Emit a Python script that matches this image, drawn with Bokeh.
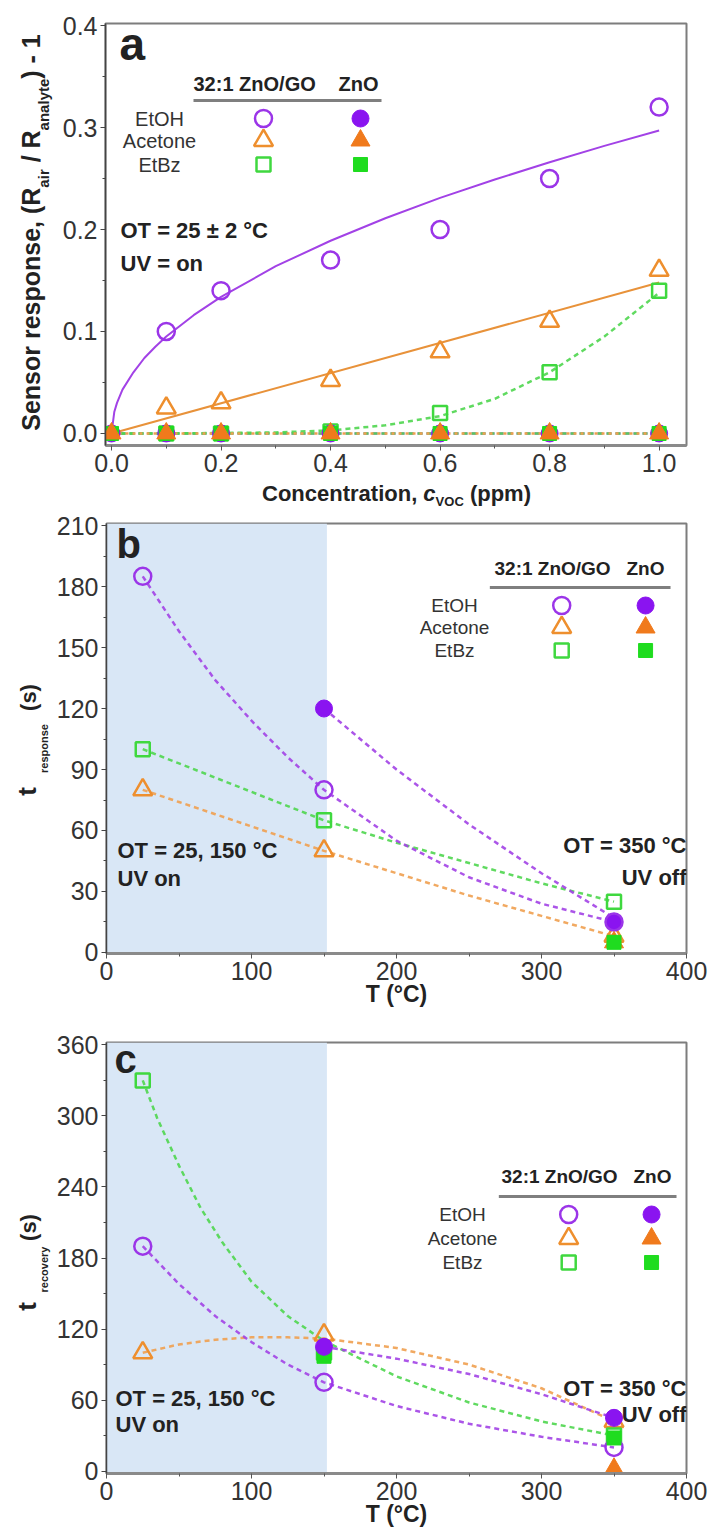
import math
from bokeh.plotting import figure
from bokeh.models import Range1d, FixedTicker, PrintfTickFormatter, Label, BoxAnnotation
from bokeh.layouts import column, row
from bokeh.embed import file_html
from bokeh.resources import INLINE

FONT = "Liberation Sans"

# ---------------- data ----------------
# panel a : sensor response vs concentration (UV on, 25 C)
conc = [0.1, 0.2, 0.4, 0.6, 0.8, 1.0]
a_etoh_go = [0.10, 0.14, 0.17, 0.20, 0.25, 0.32]
a_acetone_go = [0.025, 0.030, 0.052, 0.080, 0.110, 0.160]
a_etbz_go = [0.000, 0.000, 0.002, 0.020, 0.060, 0.140]
conc_zno = [0.0, 0.1, 0.2, 0.4, 0.6, 0.8, 1.0]
a_etoh_zno = [0.0, 0.0, 0.0, 0.0, 0.0, 0.0, 0.0]
a_acetone_zno = [0.0, 0.0, 0.0, 0.0, 0.0, 0.0, 0.0]
a_etbz_zno = [0.0, 0.0, 0.0, 0.0, 0.0, 0.0, 0.0]
# fitted curves
a_fit_x = [0, 0.005, 0.01, 0.02, 0.04, 0.06, 0.08, 0.1, 0.15, 0.2, 0.3, 0.4, 0.5, 0.6, 0.7, 0.8, 0.9, 1.0]
a_etoh_fit = [0, 0.021, 0.030, 0.043, 0.060, 0.074, 0.085, 0.095, 0.116, 0.134, 0.164, 0.189, 0.211, 0.231, 0.249, 0.266, 0.282, 0.297]
a_acetone_fit_x = [0.0, 1.0]
a_acetone_fit = [0.0, 0.148]
a_etbz_fit_x = [0.0, 0.1, 0.2, 0.3, 0.4, 0.5, 0.6, 0.7, 0.8, 0.9, 1.0]
a_etbz_fit = [0.0, 0.0, 0.0005, 0.001, 0.003, 0.008, 0.017, 0.034, 0.060, 0.095, 0.138]
a_zno_fit_x = [0.0, 1.0]
a_zno_fit = [0.0, 0.0]

# panel b : response time vs operating temperature
temps = [25, 150, 350]
b_etoh_go = [185, 80, 15]
b_acetone_go = [80, 50, 8]
b_etbz_go = [100, 65, 25]
b_etoh_zno_t = [150, 350]
b_etoh_zno = [120, 15]
b_acetone_zno_t = [350]
b_acetone_zno = [5]
b_etbz_zno_t = [350]
b_etbz_zno = [5]
b_fit_t = [25, 50, 75, 100, 125, 150, 200, 250, 300, 350]
b_etoh_go_fit = [185, 158, 134, 114, 96, 80, 55, 37, 24, 15]
b_acetone_go_fit = [80, 74, 68, 62, 56, 50, 39, 28, 18, 8]
b_etbz_go_fit = [100, 93, 86, 79, 72, 65, 54, 44, 34, 25]
b_zno_fit_t = [150, 200, 250, 300, 350]
b_etoh_zno_fit = [120, 90, 63, 39, 17]

# panel c : recovery time vs operating temperature
c_etoh_go = [190, 75, 20]
c_acetone_go = [100, 115, 42]
c_etbz_go = [330, 100, 30]
c_etoh_zno_t = [150, 350]
c_etoh_zno = [105, 45]
c_acetone_zno_t = [350]
c_acetone_zno = [2]
c_etbz_zno_t = [150, 350]
c_etbz_zno = [97, 28]
c_fit_t = [25, 50, 75, 100, 125, 150, 200, 250, 300, 350]
c_etoh_go_fit = [190, 158, 131, 109, 90, 75, 55, 40, 29, 20]
c_acetone_go_fit = [100, 107, 111, 113, 113, 112, 104, 90, 70, 42]
c_etbz_fit_t = [25, 35, 50, 65, 80, 100, 125, 150, 200, 250, 300, 350]
c_etbz_go_fit = [330, 298, 258, 222, 193, 160, 131, 110, 80, 58, 42, 30]
c_zno_fit_t = [150, 200, 250, 300, 350]
c_etoh_zno_fit = [105, 95, 82, 65, 45]

# ticks
a_xticks = [0.0, 0.2, 0.4, 0.6, 0.8, 1.0]
a_xminor = [0.1, 0.3, 0.5, 0.7, 0.9]
a_yticks = [0.0, 0.1, 0.2, 0.3, 0.4]
a_yminor = [0.05, 0.15, 0.25, 0.35]
t_xticks = [0, 100, 200, 300, 400]
t_xminor = [50, 150, 250, 350]
b_yticks = [0, 30, 60, 90, 120, 150, 180, 210]
b_yminor = [15, 45, 75, 105, 135, 165, 195]
c_yticks = [0, 60, 120, 180, 240, 300, 360]
c_yminor = [30, 90, 150, 210, 270, 330]

legend_rows = ["EtOH", "Acetone", "EtBz"]
legend_cols = ["32:1 ZnO/GO", "ZnO"]

# ---------------- styles ----------------
PURPLE_O = "#9b35e8"
PURPLE_F = "#8a14f0"
PURPLE_L = "#a242e6"
ORANGE_O = "#ee8f2e"
ORANGE_F = "#f07a1c"
ORANGE_L = "#f0a050"
GREEN_O = "#3fd83f"
GREEN_F = "#1fdc1f"
GREEN_L = "#4fd64f"
SHADE = "#d9e7f6"
TXT = "#222222"

YT_W = 53          # width of the y-title strip
MAIN_W = 657       # width of each chart
FL = 105           # frame left (page px)
FR = 686           # frame right (page px)
FW = FR - FL

BOLD = {' ': 278, '(': 333, ')': 333, ',': 278, '-': 333, '.': 278, '/': 278, ':': 333,
        'A': 722, 'C': 722, 'O': 778, 'R': 722, 'S': 667, 'T': 611, 'V': 667, 'Z': 611, 'G': 778,
        'a': 556, 'b': 611, 'c': 556, 'e': 556, 'i': 278, 'l': 278, 'm': 889, 'n': 611, 'o': 611,
        'p': 611, 'r': 389, 's': 556, 't': 333, 'v': 556, 'y': 556, '1': 556}


def tw(s, size):
    return sum(BOLD.get(ch, 556) for ch in s) / 1000.0 * size


def put_text(fig, sx, sy, s, size, bold=True, align="left", color=TXT, angle=0.0, italic=False):
    style = "bold" if bold else "normal"
    if italic:
        style = "bold italic" if bold else "italic"
    fig.add_layout(Label(x=sx, y=sy, x_units="screen", y_units="screen",
                         text=s, text_font=FONT, text_font_size=f"{size}px",
                         text_font_style=style, text_color=color, text_align=align,
                         text_baseline="middle", angle=angle))


def blank_fig(width, height, top_b, bottom_b):
    return figure(width=width, height=height, x_range=Range1d(0, 1), y_range=Range1d(0, 1),
                  x_axis_type=None, y_axis_type=None, output_backend="svg", title=None,
                  toolbar_location=None, min_border_left=0, min_border_right=0,
                  min_border_top=top_b, min_border_bottom=bottom_b, outline_line_color=None,
                  background_fill_color="white", border_fill_color="white")


class Strip:
    """Blank figure that only carries text placed outside the charts' frames."""
    def __init__(self, x0, top, width, height, top_b=0, bottom_b=0):
        self.x0 = x0
        self.fb = top + height - bottom_b   # page y of this strip's frame bottom
        self.fig = blank_fig(width, height, top_b, bottom_b)

    def text(self, X, Y, s, size, **kw):
        put_text(self.fig, X - self.x0, self.fb - Y, s, size, **kw)


class Panel:
    def __init__(self, top, height, ftop, fbot, xr, yr):
        self.top, self.height, self.ft, self.fb = top, height, ftop, fbot
        self.fh = fbot - ftop
        self.xr, self.yr = xr, yr
        left = FL - YT_W
        tb, bb = ftop - top, top + height - fbot
        self.fig = figure(width=MAIN_W, height=height, x_range=Range1d(*xr), y_range=Range1d(*yr),
                          output_backend="svg", toolbar_location=None, title=None,
                          min_border_left=left, min_border_right=MAIN_W - left - FW,
                          min_border_top=tb, min_border_bottom=bb)
        self.yt = Strip(0, top, YT_W, height, tb, bb)

    def dx(self, X):
        return self.xr[0] + (X - FL) / FW * (self.xr[1] - self.xr[0])

    def dy(self, Y):
        return self.yr[0] + (self.fb - Y) / self.fh * (self.yr[1] - self.yr[0])

    def text(self, X, Y, s, size, **kw):
        put_text(self.fig, X - FL, self.fb - Y, s, size, **kw)


def style(P, xt, xm, yt, ym, fmt):
    p = P.fig
    p.xgrid.visible = False
    p.ygrid.visible = False
    p.outline_line_color = "#7d7d7d"
    p.outline_line_width = 2
    p.background_fill_color = "white"
    p.border_fill_color = "white"
    p.xaxis.ticker = FixedTicker(ticks=xt, minor_ticks=xm)
    p.yaxis.ticker = FixedTicker(ticks=yt, minor_ticks=ym)
    p.yaxis.formatter = PrintfTickFormatter(format=fmt)
    p.xaxis.formatter = PrintfTickFormatter(format=fmt)
    for ax in (p.xaxis, p.yaxis):
        ax.major_label_text_font = FONT
        ax.major_label_text_font_size = "25px"
        ax.major_label_text_color = "#333333"
        ax.major_tick_out = 5
        ax.major_tick_in = 0
        ax.minor_tick_out = 3
        ax.minor_tick_in = 0
        ax.major_label_standoff = 3
    p.xaxis.axis_line_color = "#8a8a8a"
    p.xaxis.axis_line_width = 3
    p.xaxis.major_tick_line_color = "#555555"
    p.xaxis.minor_tick_line_color = "#555555"
    p.yaxis.axis_line_color = "#444444"
    p.yaxis.axis_line_width = 1.5
    p.yaxis.major_tick_line_color = "#444444"
    p.yaxis.minor_tick_line_color = "#444444"


def marks(p, x, y, marker, color, filled):
    size = {"circle": 17, "triangle": 19, "square": 14}[marker]
    if filled:
        p.scatter(x, y, marker=marker, size=size, fill_color=color, line_color=color, line_width=1)
    else:
        p.scatter(x, y, marker=marker, size=size, fill_alpha=0, line_color=color, line_width=2.5)


def dashed(p, x, y, color):
    p.line(x, y, line_color=color, line_width=2.5, line_dash="5 4", line_alpha=0.9)


def legend(P, hx, zx, hy, ly, lx, rows_y, lab_cx, ox, fx, hsize, lsize):
    P.text(hx, hy, legend_cols[0], hsize, bold=True)
    P.text(zx, hy, legend_cols[1], hsize, bold=True)
    P.fig.line([P.dx(lx[0]), P.dx(lx[1])], [P.dy(ly), P.dy(ly)], line_color="#7f7f7f", line_width=3)
    specs = [("circle", PURPLE_O, PURPLE_F), ("triangle", ORANGE_O, ORANGE_F), ("square", GREEN_O, GREEN_F)]
    for name, Y, (mk, co, cf) in zip(legend_rows, rows_y, specs):
        P.text(lab_cx, Y, name, lsize, bold=False, align="center", color="#333333")
        marks(P.fig, [P.dx(ox)], [P.dy(Y)], mk, co, False)
        marks(P.fig, [P.dx(fx)], [P.dy(Y)], mk, cf, True)


def composite(T, X, Y, pieces, vertical=False):
    """pieces: (text, size, position across the text line, italic)"""
    total = sum(tw(s, sz) for s, sz, pos, it in pieces)
    cum = 0.0
    for s, sz, pos, it in pieces:
        lead = len(s) - len(s.lstrip(" "))
        off = cum + tw(" " * lead, sz)
        body = s.strip(" ")
        if vertical:
            T.text(pos, Y + total / 2.0 - off, body, sz, angle=math.pi / 2, italic=it)
        else:
            T.text(X - total / 2.0 + off, pos, body, sz, italic=it)
        cum += tw(s, sz)


def x_title(P, text):
    ax = P.fig.xaxis[0]
    ax.axis_label = text
    ax.axis_label_text_font = FONT
    ax.axis_label_text_font_size = "23px"
    ax.axis_label_text_font_style = "bold"
    ax.axis_label_text_color = TXT
    ax.axis_label_standoff = -2


# ---------------- panel a ----------------
A = Panel(0, 480, 23, 445, (-0.011, 1.05), (-0.0118, 0.402))
style(A, a_xticks, a_xminor, a_yticks, a_yminor, "%.1f")
pa = A.fig
pa.line(a_fit_x, a_etoh_fit, line_color=PURPLE_L, line_width=2)
pa.line(a_acetone_fit_x, a_acetone_fit, line_color="#e8923a", line_width=2)
dashed(pa, a_zno_fit_x, a_zno_fit, PURPLE_L)
dashed(pa, a_zno_fit_x, a_zno_fit, GREEN_L)
dashed(pa, a_etbz_fit_x, a_etbz_fit, GREEN_L)
pa.line(a_zno_fit_x, a_zno_fit, line_color=ORANGE_L, line_width=2.5, line_dash="3 4")
marks(pa, conc, a_etoh_go, "circle", PURPLE_O, False)
marks(pa, conc, a_acetone_go, "triangle", ORANGE_O, False)
marks(pa, conc, a_etbz_go, "square", GREEN_O, False)
marks(pa, conc_zno, a_etoh_zno, "circle", PURPLE_F, True)
marks(pa, conc_zno, a_etbz_zno, "square", GREEN_F, True)
marks(pa, conc_zno, a_acetone_zno, "triangle", ORANGE_F, True)
A.text(119, 43, "a", 46)
legend(A, 193, 338, 83, 100, (193, 381), [118, 140, 164], 159, 263, 360, 20, 20)
A.text(120, 230, "OT = 25 \u00b1 2 \u00b0C", 22)
A.text(120, 263, "UV = on", 22)
composite(A.yt, 0, 232, [("Sensor response, (R", 25, 30, False), ("air", 15, 43, False),
                         (" / R", 25, 30, False), ("analyte", 15, 43, False), (") - 1", 25, 30, False)],
          vertical=True)
XA = Strip(0, 480, YT_W + MAIN_W, 28)
composite(XA, 396, 0, [("Concentration, ", 22, 493, False), ("c", 22, 493, True),
                       ("VOC", 13, 501, False), (" (ppm)", 22, 493, False)])

# ---------------- panel b ----------------
B = Panel(508, 512, 523, 953, (0, 400), (-0.5, 211))
style(B, t_xticks, t_xminor, b_yticks, b_yminor, "%d")
pb = B.fig
pb.add_layout(BoxAnnotation(left=0, right=152, fill_color=SHADE, fill_alpha=1.0, line_color=None, level="underlay"))
dashed(pb, b_fit_t, b_acetone_go_fit, ORANGE_L)
dashed(pb, b_fit_t, b_etbz_go_fit, GREEN_L)
dashed(pb, b_fit_t, b_etoh_go_fit, PURPLE_L)
dashed(pb, b_zno_fit_t, b_etoh_zno_fit, PURPLE_L)
marks(pb, temps, b_acetone_go, "triangle", ORANGE_O, False)
marks(pb, temps, b_etbz_go, "square", GREEN_O, False)
marks(pb, b_etoh_zno_t, b_etoh_zno, "circle", PURPLE_F, True)
marks(pb, temps, b_etoh_go, "circle", PURPLE_O, False)
marks(pb, b_acetone_zno_t, b_acetone_zno, "triangle", ORANGE_F, True)
marks(pb, b_etbz_zno_t, b_etbz_zno, "square", GREEN_F, True)
B.text(115, 543, "b", 40)
legend(B, 493, 625, 568, 587, (489, 670), [605, 627, 650], 453, 561, 645, 19, 19)
B.text(116, 850, "OT = 25, 150 \u00b0C", 22)
B.text(116, 878, "UV on", 22)
B.text(685, 845, "OT = 350 \u00b0C", 22, align="right")
B.text(685, 877, "UV off", 22, align="right")
B.yt.text(26, 791, "t", 26, align="center", angle=math.pi / 2)
B.yt.text(43, 748, "response", 11, align="center", angle=math.pi / 2)
B.yt.text(28, 697, "(s)", 22, align="center", angle=math.pi / 2)
x_title(B, "T (\u00b0C)")

# ---------------- panel c ----------------
C = Panel(1020, 512, 1042, 1473, (0, 400), (-2, 362))
style(C, t_xticks, t_xminor, c_yticks, c_yminor, "%d")
pc = C.fig
pc.add_layout(BoxAnnotation(left=0, right=152, fill_color=SHADE, fill_alpha=1.0, line_color=None, level="underlay"))
dashed(pc, c_fit_t, c_acetone_go_fit, ORANGE_L)
dashed(pc, c_etbz_fit_t, c_etbz_go_fit, GREEN_L)
dashed(pc, c_fit_t, c_etoh_go_fit, PURPLE_L)
dashed(pc, c_zno_fit_t, c_etoh_zno_fit, PURPLE_L)
marks(pc, temps, c_acetone_go, "triangle", ORANGE_O, False)
marks(pc, temps, c_etbz_go, "square", GREEN_O, False)
marks(pc, temps, c_etoh_go, "circle", PURPLE_O, False)
marks(pc, c_etbz_zno_t, c_etbz_zno, "square", GREEN_F, True)
marks(pc, c_etoh_zno_t, c_etoh_zno, "circle", PURPLE_F, True)
marks(pc, c_acetone_zno_t, c_acetone_zno, "triangle", ORANGE_F, True)
C.text(113, 1058, "c", 40)
legend(C, 500, 632, 1176, 1196, (498, 676), [1214, 1238, 1262], 461, 568, 651, 19, 19)
C.text(114, 1398, "OT = 25, 150 \u00b0C", 22)
C.text(114, 1424, "UV on", 22)
C.text(685, 1388, "OT = 350 \u00b0C", 22, align="right")
C.text(685, 1414, "UV off", 22, align="right")
C.yt.text(26, 1306, "t", 26, align="center", angle=math.pi / 2)
C.yt.text(43, 1269, "recovery", 11, align="center", angle=math.pi / 2)
C.yt.text(28, 1227, "(s)", 22, align="center", angle=math.pi / 2)
x_title(C, "T (\u00b0C)")

layout = column(row(A.yt.fig, pa, spacing=0), XA.fig,
                row(B.yt.fig, pb, spacing=0),
                row(C.yt.fig, pc, spacing=0), spacing=0)
open("out.html", "w").write(file_html(layout, INLINE))
